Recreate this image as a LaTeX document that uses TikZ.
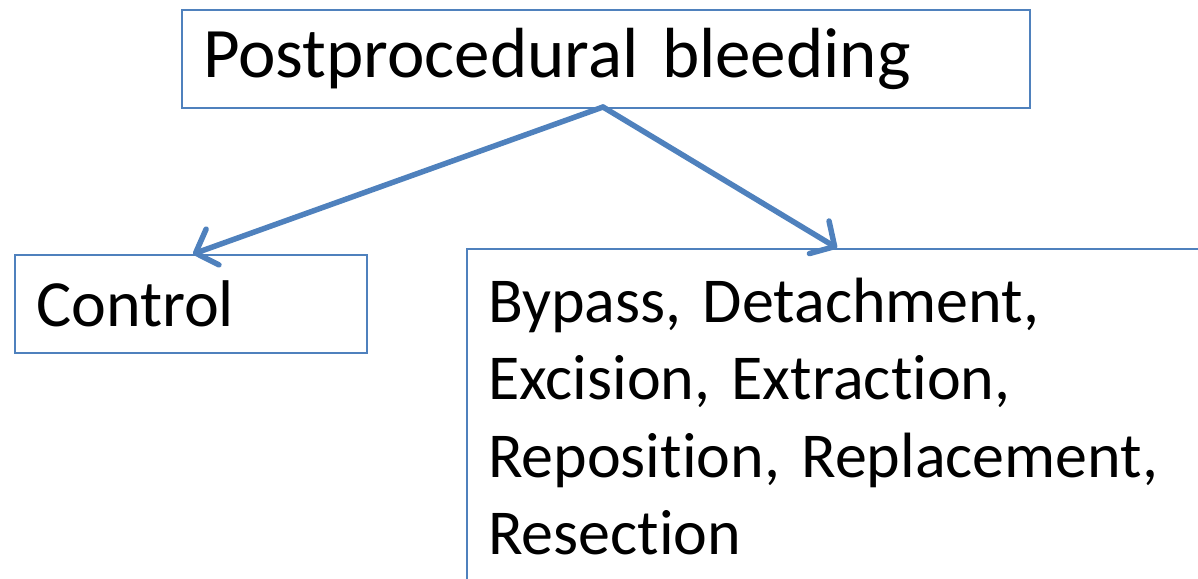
\documentclass[tikz,border=0pt]{standalone}
\usepackage{fontspec}
\setmainfont[Ligatures={NoCommon}, WordSpace={0.85}]{Carlito}
\usetikzlibrary{arrows.meta}
\definecolor{obl}{HTML}{4F81BD}
\begin{document}
\begin{tikzpicture}[x=1pt,y=-1pt,
  box/.style={draw=obl, line width=2.2pt, anchor=north west, align=left, inner xsep=21pt, inner ysep=0pt},
  conn/.style={draw=obl, line width=5.5pt, line cap=round, -{Straight Barb[length=18pt, width=38pt, line width=5.5pt, round]}}]
\useasboundingbox (0,0) rectangle (1198,578);
\node[box, minimum width=848pt, minimum height=98pt, text width=806pt, font=\fontsize{71}{86}\selectfont] (top) at (181,9) {Postprocedural bleeding};
\node[box, minimum width=352pt, minimum height=98pt, text width=310pt, font=\fontsize{66}{86}\selectfont] (ctl) at (14,254) {Control};
\node[box, minimum width=760pt, inner ysep=29pt, text width=718pt, font=\fontsize{64}{77.3}\selectfont] (oth) at (466,248) {Bypass, Detachment,\\Excision, Extraction,\\Reposition, Replacement,\\Resection};
\coordinate (src) at (603,107);
\draw[conn] (src) -- (ctl.north west -| 193,0);
\draw[conn] (src) -- (oth.north west -| 837,0);
\end{tikzpicture}
\end{document}
